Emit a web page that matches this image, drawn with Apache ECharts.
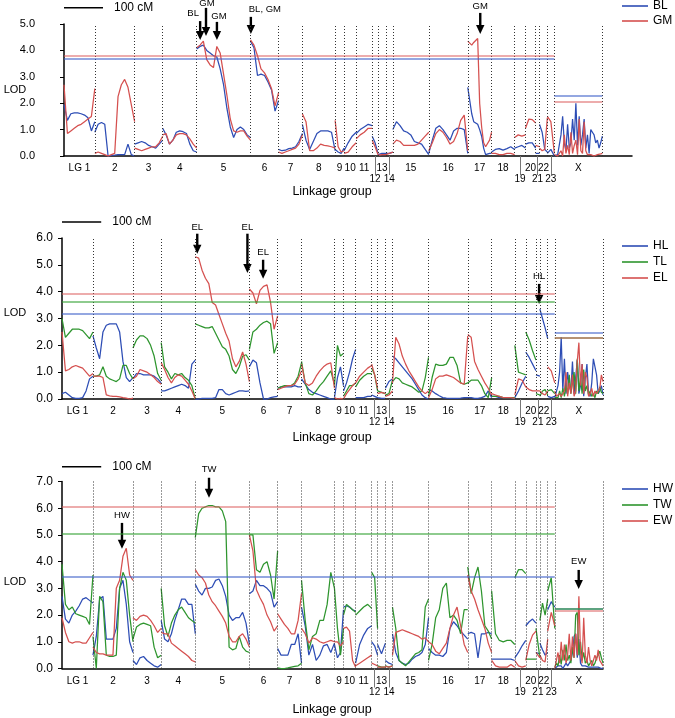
<!DOCTYPE html>
<html><head><meta charset="utf-8">
<script src="https://cdn.jsdelivr.net/npm/echarts@6/dist/echarts.min.js"></script>
<style>html,body{margin:0;padding:0;background:#fff}#c{width:675px;height:718px}</style>
</head><body><div id="c"></div>
<script>
// ---------- map ----------
const LG_NAMES = ['LG 1','2','3','4','5','6','7','8','9','10','11','12','13','14','15','16','17','18','19','20','21','22','23','X'];
const LG_LEN = [79,102,72,87,138,72,61,84,23,31,41,15,20,18,92,100,61,59,28,26,10,20,18,123]; // cM
const LOWER_ROW = ['12','14','19','21','23'];
const Y_TICKS_P1 = [0,1,2,3,4,5];
const Y_TICKS_P2 = [0,1,2,3,4,5,6];
const Y_TICKS_P3 = [0,1,2,3,4,5,6,7];

// ---------- LOD profiles (samples evenly spaced along each linkage group) ----------
const BL = [[1.95,1.35,1.6,1.63,1.63,1.6,1.55,1.45,0.95,1.3],[0.9,1.2,1.27,1.2,0.0,0.02,0.03,0.05,0.05,0.05,0.45,0.05,0.0],[0.45,0.5,0.55,0.5,0.4,0.35,0.3,0.45,0.6],[1.05,0.8,0.45,0.6,0.9,0.95,0.92,0.85,0.45,0.2,0.15],[4.05,4.15,4.2,4.0,3.9,3.8,3.75,3.3,2.7,1.8,1.1,0.7,1.0,1.1,1.0,0.8,0.7],[4.35,4.1,3.05,3.1,3.05,2.8,2.5,1.7,2.1],[0.25,0.2,0.22,0.28,0.3,0.35,0.55,0.85],[1.2,0.6,0.25,0.55,0.85,0.95,0.95,0.95,0.9,0.2],[0.25,0.15,0.1,0.3],[0.2,0.5,0.75,0.9],[0.85,1.0,1.1,1.2,1.15],[0.75,0.5,0.1],[0.05,0.1,0.1],[0.1,0.1,0.15],[1.0,1.3,1.15,0.95,0.9,0.8,0.55,0.5,0.45,0.25,0.05],[0.1,0.6,1.05,1.15,1.0,0.8,0.6,0.95,1.05,1.05,1.0,0.1],[2.6,2.55,1.6,1.3,1.25,1.2,1.0,0.75,0.3,0.05,0.05,0.1,0.1],[0.15,0.25,0.28,0.22,0.28,0.35,0.25],[0.3,0.35,0.4,0.3],[0.45,0.5,0.5,0.3],[0.1,0.1],[1.2,0.9,0.25,0.15],[0.1,0.25,0.0],[0.0,0.02,0.05,0.1,0.8,1.5,0.5,0.2,1.2,0.3,0.5,1.4,0.6,2.0,0.4,1.5,0.4,0.8,1.4,0.3,0.8,0.1,1.0,0.9,0.8,0.5,0.6,0.3,0.5,0.75]];
const GM = [[2.7,0.85,0.95,1.05,1.15,1.2,1.3,1.4,1.5,2.55],[0.1,0.15,0.1,0.05,0.0,0.05,0.1,2.25,2.7,2.9,2.6,1.95,1.3],[0.3,0.25,0.2,0.25,0.3,0.35,0.35,0.5,0.75],[0.8,0.85,0.45,0.6,0.8,0.85,0.85,0.8,0.65,0.45,0.3],[4.1,4.2,4.35,3.65,3.45,3.35,4.15,3.9,3.1,2.3,1.4,0.95,0.9,0.95,0.95,0.75,0.6],[4.4,4.2,3.8,3.3,3.15,2.9,2.55,1.9,2.4],[0.15,0.1,0.15,0.2,0.25,0.3,0.45,0.8],[1.6,1.3,0.2,0.2,0.3,0.45,0.4,0.38,0.35,0.3],[1.35,0.35,0.15,0.2],[0.1,0.15,0.35,0.5],[0.65,0.8,0.9,1.05,1.05],[0.6,0.35,0.05],[0.02,0.05,0.05],[0.05,0.1,0.15],[0.45,0.6,0.55,0.4,0.4,0.4,0.4,0.45,0.6,0.75,0.9],[0.2,0.5,0.85,1.0,0.9,0.7,0.45,0.55,0.85,1.35,1.55,0.2],[4.35,4.3,4.2,4.3,4.25,4.45,2.0,1.1,0.5,0.35,0.4,0.6,0.9],[0.1,0.1,0.05,0.05,0.1,0.1,0.05],[0.7,0.8,0.75,0.8],[1.05,1.4,1.38,1.25],[0.4,0.35],[0.3,0.2,0.25,1.45],[1.5,1.3,0.1],[0.05,0,0,0.05,0.2,0,0.8,0.1,0.4,0.05,0.9,0.1,0.4,0.6,0.05,1.4,0.2,0.1,1.3,0.2,0.05,0.02,0.05,0.02,0,0.02,0.05,0.05,0.08,0.1]];

const HL = [[0.2,0.25,0.15,0.05,0.02,0.02,0.05,0.3,0.75,0.85],[2.35,1.9,1.5,2.5,2.75,2.8,2.8,2.8,2.5,1.4,0.8,0.65,0.8],[0.75,0.95,0.95,0.9,0.9,0.9,0.85,0.75,0.6],[0.3,0.3,0.35,0.4,0.45,0.5,0.55,0.5,0.4,1.3,1.45],[0.0,0.0,0.02,0.02,0.02,0.02,0.05,0.35,0.35,0.2,0.15,0.2,0.25,0.3,0.3,0.28,0.3],[1.2,1.45,1.35,0.6,0.0,0.0,0.05,0.08,0.1],[0.4,0.45,0.45,0.45,0.45,0.5,0.45,0.45],[0.75,0.55,0.35,0.25,0.2,0.15,0.1,0.05,0.0,0.0],[0.05,0.8,1.2,0.5],[0.3,0.6,1.0,1.5,1.85],[0.05,0.05,0.05,0.1,0.1],[0.15,0.1,0.05],[0.05,0.02,0.02],[0.4,0.65,0.75],[1.6,1.5,1.35,1.2,1.05,0.9,0.75,0.55,0.35,0.15,0.05,0.0],[0.35,0.3,0.2,0.12,0.05,0.03,0.02,0.02,0.02,0.03,0.05,0.05],[0.05,0.05,0.02,0.02,0.05,0.1,0.3,0.05],[0.1,0.1,0.05,0.05,0.05,0.05,0.0],[0.05,0.3,0.6,0.85],[1.75,1.55,1.3,1.05],[0.9,0.85],[3.35,3.0,2.65,2.25],[0.1,0.05,0.1],[0.05,0.1,0.5,1.0,2.3,0.3,1.5,0.2,1.0,0.5,0.3,1.4,0.2,0.8,1.45,0.2,0.5,1.3,0.1,0.8,1.3,0.2,0.1,0.6,1.5,1.5,0.9,0.2,0.3,0.5,0.15]];
const TL = [[3.0,2.3,2.45,2.6,2.6,2.6,2.55,2.4,2.25,2.5],[0.85,0.85,0.9,1.2,0.85,0.75,0.7,0.65,0.75,1.25,1.25,0.95,0.75],[1.9,2.2,2.35,2.35,2.25,2.0,1.6,0.95,0.7],[2.1,1.2,1.0,0.75,0.95,0.9,0.95,0.8,0.7,0.5,0.0],[2.8,2.75,2.7,2.65,2.65,2.7,2.45,2.2,1.95,1.85,1.6,1.1,0.95,1.2,1.6,1.65,1.45],[1.85,2.5,2.6,2.75,2.85,2.9,2.8,1.7,2.1],[0.4,0.45,0.5,0.5,0.5,0.6,0.85,1.35],[1.4,0.6,0.2,0.15,0.3,0.5,0.65,0.85,1.05,0.55],[0.5,2.0,1.6,1.7],[0.1,0.3,0.5,0.5,0.6],[0.45,0.7,0.85,0.95,0.95],[1.15,0.9,0.3],[0.3,0.25,0.2],[0.15,0.2,0.7],[0.65,0.8,0.75,0.6,0.55,0.5,0.45,0.35,0.25,0.3,0.8,1.55],[0.1,0.8,1.3,1.25,1.25,1.3,1.55,1.55,1.25,0.6,0.55,0.6],[0.6,0.7,0.7,0.7,0.5,0.2,0.05,0.8],[0.1,0.1,0.1,0.05,0.05,0.05,0.05],[2.0,1.0,0.95,0.9],[2.5,2.2,1.8,1.45],[0.2,0.15],[0.1,0.3,0.35,0.15],[0.3,0.35,0.2],[0.05,0.1,0.05,0.3,0.05,0.4,0.1,0.5,0.2,0.9,0.2,0.6,1.0,0.2,1.5,0.3,0.8,0.2,1.1,0.3,0.5,0.15,0.3,0.1,0.2,0.05,0.3,0.2,0.45,0.25,0.2]];
const EL = [[2.5,1.05,1.1,1.2,1.25,1.2,1.15,1.0,0.85,0.95],[0.85,0.85,0.85,0.8,0.15,0.12,0.1,0.1,0.08,0.05,0.03,0.0,0.03],[0.75,0.85,1.1,1.05,1.0,0.9,0.8,0.65,0.55],[1.35,1.1,0.8,0.6,0.8,0.9,0.85,0.7,0.55,0.3,0.0],[5.3,5.25,4.8,4.5,4.3,3.6,3.5,3.15,2.8,2.45,2.15,1.5,1.2,1.4,1.75,1.3,0.65],[4.1,3.95,3.55,4.05,4.2,4.25,3.6,2.6,3.1],[0.35,0.4,0.45,0.5,0.5,0.55,0.75,1.05],[1.3,0.6,0.5,0.6,0.85,1.05,1.2,1.3,1.35,0.4],[0.05,0.0,0.02,0.0],[0.0,0.2,0.35,0.5,0.6],[0.6,0.85,1.0,1.15,1.25],[1.3,0.9,0.4],[0.2,0.25,0.2],[0.1,0.15,0.3],[0.6,2.3,2.05,1.6,1.3,1.05,0.85,0.65,0.45,0.3,0.2,0.3],[0.05,0.35,0.75,0.85,0.85,0.9,0.85,0.8,0.7,0.6,0.55,2.35],[2.4,2.3,1.4,1.1,0.85,0.6,0.4,0.15],[0.2,0.15,0.1,0.05,0.05,0.05,0.02],[0.15,0.75,0.7,0.45],[0.45,0.35,0.3,0.3],[0.3,0.3],[0.3,0.2,0.15,0.3],[1.2,1.05,0.6],[0.3,0.1,0.05,0.2,0.1,0.05,0.3,1.0,0.1,0.6,0.2,0.9,0.1,0.3,1.4,2.1,0.5,1.3,0.2,1.0,0.8,0.1,0.2,0.4,0.1,0.3,0.2,0.15,0.4,0.9,0.65]];

const HW = [[2.7,1.85,1.7,2.0,2.15,2.35,2.6,2.65,2.55,2.45],[0.5,1.2,2.6,2.7,1.1,1.1,1.1,1.5,3.0,3.3,2.4,1.0,0.6],[0.3,0.15,0.4,0.45,0.3,0.2,0.1,0.05,0.15],[1.8,1.1,1.0,1.3,1.8,2.2,2.6,2.6,2.4,2.4,1.3],[3.15,2.9,2.75,3.0,3.0,3.05,3.3,3.35,3.1,2.7,2.0,1.8,1.9,1.9,2.1,1.7,0.9],[2.8,2.9,3.3,3.1,3.1,3.0,2.85,2.3,2.5],[0.75,0.5,0.5,0.5,0.9,0.9,1.3,0.2],[2.3,1.6,0.5,0.9,0.3,0.5,0.85,0.9,0.6,0.95],[0.9,0.4,0.6,2.2],[2.3,2.35,2.3,2.2,2.15],[0.2,0.9,1.25,1.5,1.6],[1.0,0.85,0.5],[0.9,0.55,0.95],[0.3,0.2,0.15],[1.3,0.6,0.3,0.2,0.15,0.2,0.35,0.45,0.5,0.6,0.9,1.9],[0.75,0.6,0.5,0.5,0.45,0.6,1.5,1.75,1.6,1.4,1.25,1.1],[1.3,1.35,1.3,0.4,1.3,1.3,1.35,1.3],[0.35,0.35,0.35,0.35,0.35,0.35,0.3],[0.4,0.6,0.85,1.05],[1.6,1.75,1.85,1.7],[0.6,0.55],[0.95,0.7,0.5,0.6],[2.2,2.5,2.3],[0.0,0.05,0.1,0.05,0.1,0.0,0.1,0.2,0.1,0.15,0.3,0.6,1.2,1.3,0.4,1.1,0.2,0.1,0.05,0.1,0.05,0.05,0.0,0.05,0.02,0.05,0.02,0.05,0.02,0.0,0.02]];
const TW = [[3.9,2.4,2.2,2.3,2.05,2.0,1.95,1.9,1.65,3.5],[1.2,0.0,2.7,2.5,0.5,0.45,0.45,0.5,3.0,3.6,3.3,2.0,1.0],[1.1,1.55,1.65,1.7,1.65,1.6,0.8,0.4,0.5],[3.0,1.6,1.2,1.7,2.0,2.2,2.3,2.1,1.9,1.8,1.7],[4.9,5.8,6.0,6.05,6.1,6.1,6.05,6.05,5.9,5.5,0.8,0.7,0.75,1.2,0.8,0.65,0.6],[5.0,5.0,3.7,3.6,3.9,4.0,3.5,2.6,4.4],[0.02,0.0,0.0,0.02,0.05,0.08,0.1,0.2],[3.3,1.8,0.7,1.2,1.3,1.8,1.8,2.4,3.6,3.0],[3.0,1.5,0.5,1.5],[2.0,2.4,2.3,2.2,2.1],[2.0,2.15,2.3,2.4,2.25],[3.6,3.4,1.5],[0.1,0.05,0.05],[0.1,0.05,0.1],[2.3,1.5,0.3,0.2,0.1,0.25,0.4,0.55,0.6,0.7,2.3,2.6],[0.3,0.9,1.9,2.2,3.0,3.2,1.9,2.0,1.8,1.3,2.2,2.2],[3.8,2.8,3.4,3.8,2.9,1.6,1.4,1.1],[2.9,1.3,1.05,1.0,1.05,1.05,0.9],[3.4,3.7,3.7,3.55],[0.35,0.35,0.35,0.35],[1.5,0.4],[1.8,2.45,2.0,2.6],[2.9,3.4,1.5],[0.05,0.2,0.1,0.5,0.15,0.7,0.3,0.9,0.3,0.5,0.2,0.8,0.4,2.0,2.1,0.5,1.0,0.3,0.6,0.2,0.3,0.1,0.2,0.3,0.1,0.2,0.4,0.5,0.65,0.4,0.2]];
const EW = [[1.9,1.35,1.0,0.95,1.0,1.0,0.95,0.95,1.15,1.35],[0.8,0.6,0.55,0.55,0.5,0.5,0.5,3.0,3.3,4.2,4.5,3.5,3.3],[1.9,1.8,1.95,2.0,1.95,1.8,1.6,1.35,1.5],[1.35,1.3,1.3,0.95,0.85,0.75,0.65,0.55,0.45,0.3,0.25],[3.7,3.5,3.4,3.2,2.75,2.5,2.35,2.15,1.95,1.7,1.2,1.0,1.0,1.2,1.3,1.1,0.8],[5.0,4.4,2.95,2.65,2.4,2.0,1.75,1.4,1.6],[2.05,1.85,1.65,1.5,1.3,1.3,1.8,2.8],[1.5,1.3,0.95,1.15,1.1,1.0,0.95,1.0,1.05,1.0],[1.0,1.0,0.85,1.0],[1.5,1.55,1.4,0.3,0.05],[0.1,0.2,0.3,0.4,0.5],[0.2,0.15,0.1],[0.05,0.05,0.05],[0.08,0.05,0.1],[0.5,1.35,1.4,1.45,1.4,1.35,1.3,1.25,1.2,1.1,1.15,1.0],[1.0,0.9,0.65,0.55,0.75,0.95,1.5,2.0,2.3,1.6,0.9,0.6],[3.5,2.9,2.6,2.2,1.85,1.5,0.95,0.6],[0.3,0.1,0.05,0.05,0.05,0.15,0.05],[0.3,0.1,0.05,0.1],[0.3,0.9,1.25,1.4],[0.6,0.4],[0.5,0.3,0.25,1.1],[1.4,2.1,1.6],[0.0,0.3,0.6,0.2,1.0,0.3,0.9,0.2,0.5,1.3,0.3,1.2,0.4,1.3,0.5,2.7,0.6,0.2,1.9,0.5,0.2,0.8,0.3,0.1,0.3,0.5,0.3,0.7,0.3,0.2,0.1]];

// significance thresholds [autosomes, X]
const THR_BL = [3.68, 2.28], THR_GM = [3.78, 2.06];
const THR_HL = [3.18, 2.47], THR_TL = [3.62, 2.30], THR_EL = [3.94, 2.28];
const THR_HW = [3.45, 2.25], THR_TW = [5.05, 2.24], THR_EW = [6.05, 2.17];

// annotation arrows: [panel, cM, LOD top, LOD tip, label, label dx(px), label LOD]
const ARROWS = [
  [0, 349, 5.11, 4.39, 'BL', -7, 5.40],
  [0, 364, 5.61, 4.55, 'GM', 1, 5.80],
  [0, 392, 5.08, 4.39, 'GM', 2, 5.30],
  [0, 479, 5.27, 4.62, 'BL, GM', 14, 5.55],
  [0, 1067, 5.42, 4.62, 'GM', 0, 5.66],
  [1, 345, 6.16, 5.41, 'EL', 0, 6.38],
  [1, 473, 6.16, 4.70, 'EL', 0, 6.38],
  [1, 513, 5.19, 4.48, 'EL', 0, 5.46],
  [1, 1217, 4.29, 3.54, 'HL', 0, 4.57],
  [2, 375, 7.14, 6.39, 'TW', 0, 7.46],
  [2, 153, 5.45, 4.48, 'HW', 0, 5.74],
  [2, 1318, 3.69, 2.98, 'EW', 0, 4.0]
];

// ---------- build ----------
const FONT = '"Liberation Sans", Arial, Helvetica, sans-serif';
const BLUE = '#2d4db5', RED = '#d5504f', GREEN = '#2e952e';
const THR_COL = {[BLUE]:'rgba(60,95,200,0.55)', [RED]:'rgba(220,90,90,0.5)', [GREEN]:'rgba(50,160,50,0.55)'};
const starts = []; let acc = 0; LG_LEN.forEach(l => { starts.push(acc); acc += l; });
const AUTO_END = starts[23], X_END = acc;
const mids = LG_LEN.map((l, i) => starts[i] + l / 2);
const bounds = starts.slice(1).concat([X_END]);

function build(profile) {
  const out = [];
  profile.forEach((vals, i) => {
    const n = vals.length;
    vals.forEach((v, j) => out.push([starts[i] + j * LG_LEN[i] / (n - 1), v]));
    out.push([starts[i] + LG_LEN[i], '-']);
  });
  return out;
}
function labelFmt(v) {
  let bi = 0, bd = 1e9;
  mids.forEach((m, i) => { const d = Math.abs(m - v); if (d < bd) { bd = d; bi = i; } });
  const nm = LG_NAMES[bi];
  return LOWER_ROW.includes(nm) ? '\n' + nm : nm;
}
const lowerMids = LOWER_ROW.map(n => mids[LG_NAMES.indexOf(n)]);

function series(name, profile, color, thr, g, withBounds) {
  const ls = {color: THR_COL[color], width: 2, type: 'solid'};
  const ml = [
    [{coord: [0, thr[0]], lineStyle: ls}, {coord: [AUTO_END, thr[0]]}],
    [{coord: [AUTO_END, thr[1]], lineStyle: ls}, {coord: [X_END, thr[1]]}]
  ];
  const data = withBounds
    ? bounds.map(b => ({xAxis: b, lineStyle: {color: '#333', width: 1, type: [1, 2]}})).concat(ml)
    : ml;
  return {
    name, type: 'line', xAxisIndex: g, yAxisIndex: g, data: build(profile),
    showSymbol: false, symbol: 'none', connectNulls: false, animation: false,
    lineStyle: {color, width: 1.25}, itemStyle: {color}, clip: false,
    markLine: {silent: true, symbol: ['none', 'none'], label: {show: false}, animation: false, data}
  };
}

const grids = [
  {left: 64, top: 24, width: 568, height: 132},
  {left: 62, top: 238, width: 541, height: 161},
  {left: 62, top: 481.5, width: 541, height: 187}
];
const yMax = [5, 6, 7];
const yMargin = [29, 9, 9];
const yFont = [11, 12, 12];
const xMax = [1456, X_END, X_END];

const option = {
  backgroundColor: '#fff',
  animation: false,
  grid: grids,
  xAxis: grids.map((g, i) => ({
    type: 'value', gridIndex: i, min: 0, max: xMax[i],
    splitLine: {show: false},
    axisLine: {lineStyle: {color: '#000', width: 1.5}},
    axisTick: {show: true, customValues: lowerMids, length: 19, lineStyle: {color: '#777', width: 1}},
    axisLabel: {customValues: mids, formatter: labelFmt, fontSize: 10, fontFamily: FONT, color: '#000', margin: 7, lineHeight: 11}
  })),
  yAxis: grids.map((g, i) => ({
    type: 'value', gridIndex: i, min: 0, max: yMax[i], interval: 1,
    splitLine: {show: false},
    axisLine: {show: true, lineStyle: {color: '#000', width: 1.5}},
    axisTick: {show: true, length: 4, lineStyle: {color: '#000'}},
    axisLabel: {formatter: v => v.toFixed(1), fontSize: yFont[i], fontFamily: FONT, color: '#000', margin: yMargin[i]}
  })),
  series: [
    series('BL', BL, BLUE, THR_BL, 0, true),
    series('GM', GM, RED, THR_GM, 0, false),
    series('HL', HL, BLUE, THR_HL, 1, true),
    series('TL', TL, GREEN, THR_TL, 1, false),
    series('EL', EL, RED, THR_EL, 1, false),
    series('HW', HW, BLUE, THR_HW, 2, true),
    series('TW', TW, GREEN, THR_TW, 2, false),
    series('EW', EW, RED, THR_EW, 2, false)
  ]
};

const chart = echarts.init(document.getElementById('c'), null, {renderer: 'canvas'});
chart.setOption(option);

// ---------- annotations ----------
const G = [];
function txt(x, y, text, size, align) {
  G.push({type: 'text', x, y, silent: true, style: {text, fontSize: size, fontFamily: FONT, fill: '#000', align: align || 'center', verticalAlign: 'middle'}});
}
ARROWS.forEach(([g, x, yt, yb, label, dx, yl]) => {
  const [px, pt] = chart.convertToPixel({gridIndex: g}, [x, yt]);
  const pb = chart.convertToPixel({gridIndex: g}, [x, yb])[1];
  const pl = chart.convertToPixel({gridIndex: g}, [x, yl])[1];
  const hh = 9, hw = 4.2;
  G.push({type: 'line', silent: true, shape: {x1: px, y1: pt, x2: px, y2: pb - hh + 1}, style: {stroke: '#000', lineWidth: 2.4}});
  G.push({type: 'polygon', silent: true, shape: {points: [[px - hw, pb - hh], [px + hw, pb - hh], [px, pb]]}, style: {fill: '#000'}});
  txt(px + dx, pl, label, 9.5);
});
// scale bars: 100 cM
const SCALE_Y = [5.62, 6.6, 7.55];
SCALE_Y.forEach((yv, g) => {
  const [x0, y0] = chart.convertToPixel({gridIndex: g}, [0, yv]);
  const x1 = chart.convertToPixel({gridIndex: g}, [100, yv])[0];
  G.push({type: 'line', silent: true, shape: {x1: x0, y1: y0, x2: x1, y2: y0}, style: {stroke: '#000', lineWidth: 1.5}});
  txt(x1 + 11, y0, '100 cM', 12, 'left');
});
// axis titles
[[90, 192], [313, 438], [582, 710]].forEach(([ly, ty]) => {
  txt(15, ly, 'LOD', 11);
  txt(332, ty, 'Linkage group', 12.5);
});
// legends
const LEG = [
  [['BL', BLUE, 6], ['GM', RED, 21]],
  [['HL', BLUE, 246], ['TL', GREEN, 262], ['EL', RED, 278]],
  [['HW', BLUE, 489], ['TW', GREEN, 505], ['EW', RED, 521]]
];
LEG.forEach(items => items.forEach(([n, c, y]) => {
  G.push({type: 'line', silent: true, shape: {x1: 622, y1: y, x2: 648, y2: y}, style: {stroke: c, lineWidth: 1.6}});
  txt(653, y, n, 12, 'left');
}));
chart.setOption({graphic: G});
</script>
</body></html>
